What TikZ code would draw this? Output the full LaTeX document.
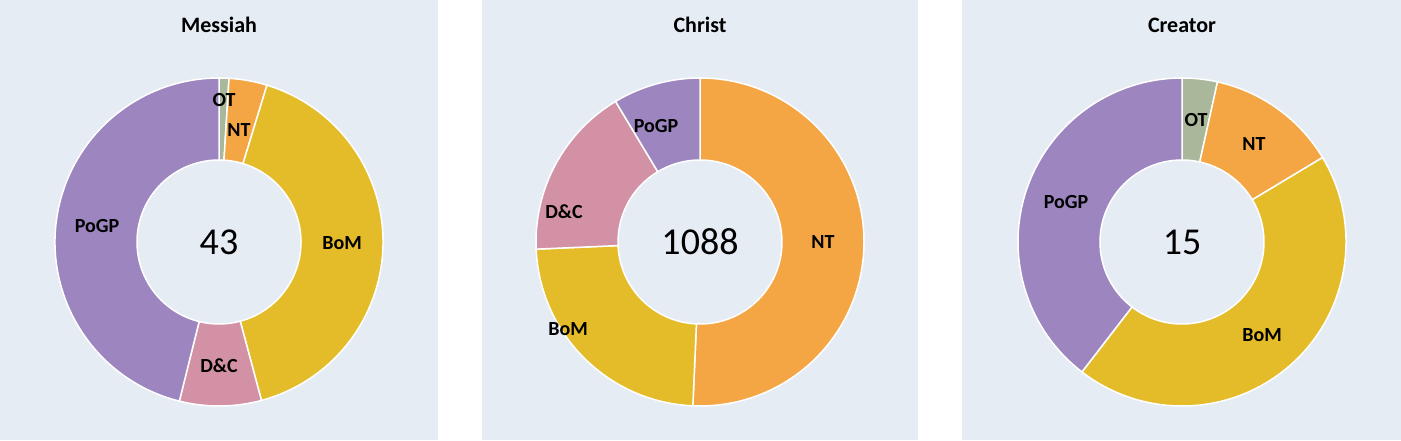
\documentclass[tikz,border=0pt]{standalone}
\usepackage{fontspec}
\setmainfont{Carlito}
\usetikzlibrary{calc}
\definecolor{bg}{HTML}{E6ECF4}
\definecolor{cOT}{HTML}{A9B89A}
\definecolor{cNT}{HTML}{F4A645}
\definecolor{cBoM}{HTML}{E4BC2A}
\definecolor{cDC}{HTML}{D291A4}
\definecolor{cPoGP}{HTML}{9D86BF}
\newcommand{\slice}[4]{% center, a1, a2, color
  \fill[#4, draw=white, line width=1.5pt] ($(#1)+({90-#2}:164)$) arc[start angle={90-#2}, end angle={90-#3}, radius=164] -- ($(#1)+({90-#3}:82)$) arc[start angle={90-#3}, end angle={90-#2}, radius=82] -- cycle;}
\tikzset{lab/.style={font=\fontsize{20}{20}\selectfont\bfseries},
  ttl/.style={font=\fontsize{22}{22}\selectfont\bfseries},
  num/.style={font=\fontsize{38}{38}\selectfont},
  panel/.style={fill=bg}}
\begin{document}
\begin{tikzpicture}[x=1pt,y=1pt]
\useasboundingbox (0,0) rectangle (1401,440);
\fill[white] (0,0) rectangle (1401,440);
\fill[panel] (0,0) rectangle (438,440);
\fill[panel] (482,0) rectangle (918,440);
\fill[panel] (962,0) rectangle (1401,440);
\coordinate (c1) at (219,198);
\coordinate (c2) at (700,198);
\coordinate (c3) at (1182,198);
% Messiah
\slice{c1}{0}{3.5}{cOT}
\slice{c1}{3.5}{17}{cNT}
\slice{c1}{17}{165}{cBoM}
\slice{c1}{165}{194}{cDC}
\slice{c1}{194}{360}{cPoGP}
% Christ
\slice{c2}{0}{182.5}{cNT}
\slice{c2}{182.5}{267.5}{cBoM}
\slice{c2}{267.5}{329}{cDC}
\slice{c2}{329}{360}{cPoGP}
% Creator
\slice{c3}{0}{12.5}{cOT}
\slice{c3}{12.5}{59}{cNT}
\slice{c3}{59}{217.6}{cBoM}
\slice{c3}{217.6}{360}{cPoGP}
\node[ttl] (t1) at (219,415) {Messiah};
\node[ttl] (t2) at (700,415) {Christ};
\node[ttl] (t3) at (1182,415) {Creator};
\node[num] (n1) at (c1) {43};
\node[num] (n2) at (c2) {1088};
\node[num] (n3) at (c3) {15};
\node[lab] (m1) at (224,340) {OT};
\node[lab] (m2) at (239,310) {NT};
\node[lab] (m3) at (342,197) {BoM};
\node[lab] (m4) at (219,74) {D\&C};
\node[lab] (m5) at (97,214) {PoGP};
\node[lab] (h1) at (656,314) {PoGP};
\node[lab] (h2) at (564,228) {D\&C};
\node[lab] (h3) at (823,198) {NT};
\node[lab] (h4) at (568,111) {BoM};
\node[lab] (r1) at (1196,320) {OT};
\node[lab] (r2) at (1254,296) {NT};
\node[lab] (r3) at (1066,238) {PoGP};
\node[lab] (r4) at (1262,105) {BoM};
\end{tikzpicture}
\end{document}
